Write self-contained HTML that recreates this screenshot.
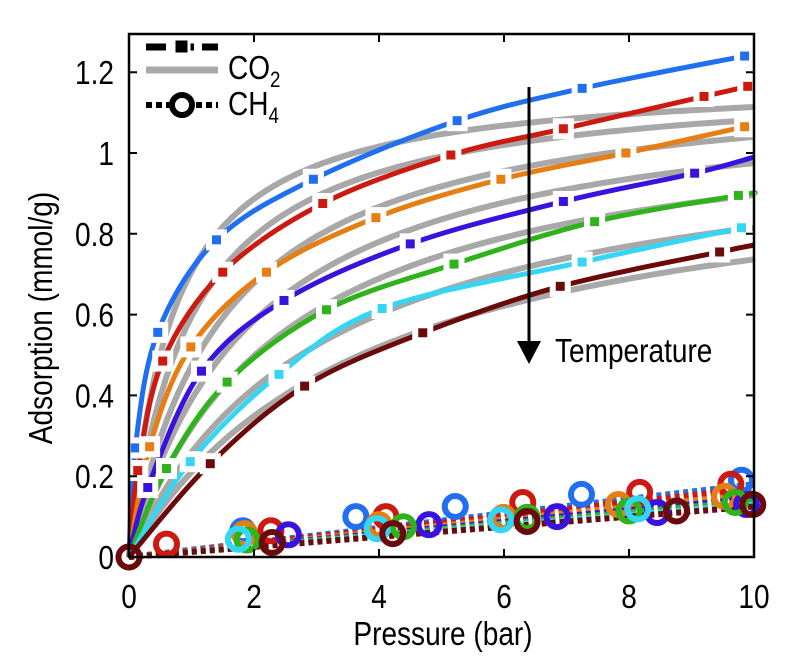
<!DOCTYPE html>
<html><head><meta charset="utf-8"><style>
body{margin:0;background:#fff}
svg{display:block;font-family:"Liberation Sans",sans-serif}
</style></head><body>
<svg id="chart" width="787" height="671" viewBox="0 0 787 671">
<g id="plot"></g>
<rect x="129" y="34" width="625" height="523" fill="none" stroke="#000" stroke-width="2.5"/>
<g id="axes"></g>
<g>
<line x1="146" y1="47" x2="218" y2="47" stroke="#000" stroke-width="7" stroke-dasharray="20 8"/>
<rect x="174" y="39" width="15" height="15" fill="#000" stroke="#fff" stroke-width="3"/>
<line x1="146" y1="70" x2="218" y2="70" stroke="#aaa" stroke-width="7"/>
<text transform="translate(228,79) scale(0.85,1)" font-size="33">CO<tspan font-size="22" dy="8">2</tspan></text>
<line x1="146" y1="105" x2="218" y2="105" stroke="#000" stroke-width="6" stroke-dasharray="6 4"/>
<circle cx="182" cy="105" r="10" fill="#fff" stroke="#000" stroke-width="6"/>
<text transform="translate(228,115) scale(0.85,1)" font-size="33">CH<tspan font-size="22" dy="8">4</tspan></text>
</g>
<g>
<line x1="529" y1="87" x2="529" y2="345" stroke="#000" stroke-width="3"/>
<polygon points="517,341 541,341 529,364" fill="#000"/>
<text transform="translate(555,362) scale(0.85,1)" font-size="33">Temperature</text>
</g>
<text transform="translate(443,645) scale(0.85,1)" font-size="33" text-anchor="middle">Pressure (bar)</text>
<text transform="translate(52,318) rotate(-90) scale(0.85,1)" font-size="33" text-anchor="middle">Adsorption (mmol/g)</text>
</svg>
<script>
const colors=["#1f6ff0","#cc1a10","#e67e14","#3a12e0","#2eb31a","#33d6f5","#6b0a0a"];
const seriesNames=["t1","t2","t3","t4","t5","t6","t7"];
const co2P=[[0.1,0.46,1.4,2.95,5.25,7.25,9.85],[0.14,0.54,1.5,3.1,5.15,6.95,9.2,9.9],[0.33,0.99,2.2,3.95,5.95,7.95,9.85],[0.3,1.16,2.48,4.5,6.95,9.05],[0.6,1.57,3.16,5.2,7.45,9.75],[0.98,2.4,4.05,7.25,9.8],[1.3,2.81,4.7,6.9,9.45]];
const co2Q=[[0.27,0.556,0.785,0.935,1.08,1.16,1.24],[0.214,0.485,0.705,0.875,0.995,1.06,1.14,1.165],[0.273,0.52,0.705,0.84,0.935,1.0,1.065],[0.172,0.46,0.635,0.775,0.88,0.95],[0.219,0.433,0.612,0.725,0.83,0.895],[0.236,0.452,0.615,0.73,0.815],[0.231,0.423,0.555,0.67,0.755]];
const co2End=[1.245,1.17,1.07,0.99,0.9,0.82,0.772];
const fitQmax=[1.19,1.19,1.2,1.17,1.12,1.07,1.02];
const fitB=[1.46,1.0,0.65,0.5,0.4,0.32,0.26];
const ch4P=[[1.82,3.63,5.22,7.24,9.8],[0.6,2.27,4.11,6.3,8.17,9.63],[1.85,4.0,5.99,7.83,9.53],[2.55,4.8,6.85,8.45,9.88],[1.89,4.39,6.37,8.0,9.7],[1.75,3.97,5.95,8.14],[0,2.29,4.22,6.37,8.76,9.98]];
const ch4Q=[[0.065,0.1,0.125,0.155,0.19],[0.032,0.065,0.1,0.135,0.16,0.18],[0.058,0.08,0.098,0.13,0.15],[0.055,0.08,0.1,0.11,0.13],[0.042,0.075,0.098,0.114,0.135],[0.044,0.07,0.092,0.119],[0,0.036,0.058,0.088,0.114,0.13]];
const ch4Slope=[0.018,0.017,0.0155,0.0145,0.0138,0.013,0.0125];
const xTicks=[0,2,4,6,8,10];
const yTicks=[0,0.2,0.4,0.6,0.8,1,1.2];
const yTickLabels=["0","0.2","0.4","0.6","0.8","1","1.2"];

const X=v=>129+v*62.5, Y=v=>557-v*404;
const NS="http://www.w3.org/2000/svg";
const plot=document.getElementById('plot'), axes=document.getElementById('axes');
function mk(tag,attrs,parent){const e=document.createElementNS(NS,tag);for(const k in attrs)e.setAttribute(k,attrs[k]);parent.appendChild(e);return e;}
function smooth(pts){let d=`M${pts[0][0]},${pts[0][1]}`;for(let i=0;i<pts.length-1;i++){const p0=pts[Math.max(0,i-1)],p1=pts[i],p2=pts[i+1],p3=pts[Math.min(pts.length-1,i+2)];const c1=[p1[0]+(p2[0]-p0[0])/6,p1[1]+(p2[1]-p0[1])/6],c2=[p2[0]-(p3[0]-p1[0])/6,p2[1]-(p3[1]-p1[1])/6];d+=` C${c1[0]},${c1[1]} ${c2[0]},${c2[1]} ${p2[0]},${p2[1]}`;}return d;}

for(let s=0;s<7;s++){
 const l=mk('line',{x1:X(0),y1:Y(0),x2:X(10),y2:Y(ch4Slope[s]*10),stroke:colors[s],'stroke-width':6,'stroke-dasharray':'5 4'},plot);
 
 
}
for(let s=0;s<7;s++){
 const pts=[];for(let i=0;i<=100;i++){const p=i/10;pts.push(X(p).toFixed(1)+','+Y(fitQmax[s]*fitB[s]*p/(1+fitB[s]*p)).toFixed(1));}
 const pl=mk('polyline',{points:pts.join(' '),fill:'none',stroke:'#a8a8a8','stroke-width':6},plot);
 
 
}
for(let s=0;s<7;s++){
 const pts=[[X(0),Y(0)]];co2P[s].forEach((p,i)=>pts.push([X(p),Y(co2Q[s][i])]));
 if(co2P[s][co2P[s].length-1]<9.8)pts.push([X(10),Y(co2End[s])]);
 const pa=mk('path',{d:smooth(pts),fill:'none',stroke:colors[s],'stroke-width':5},plot);
 
 
}
for(let s=0;s<7;s++){
 co2P[s].forEach((p,i)=>{
  const r=mk('rect',{x:X(p)-7.5,y:Y(co2Q[s][i])-7.5,width:15,height:15,fill:colors[s],stroke:'#fff','stroke-width':6},plot);
  
  
 });
}
for(let s=0;s<7;s++){
 ch4P[s].forEach((p,i)=>{
  const c=mk('circle',{cx:X(p),cy:Y(ch4Q[s][i]),r:10.5,fill:'none',stroke:colors[s],'stroke-width':6},plot);
  
  
 });
}
xTicks.forEach(v=>{
 const t=mk('path',{d:`M${X(v)},557 v-8 M${X(v)},34 v8`,stroke:'#000','stroke-width':2},axes);
 
 
 const tx=mk('text',{transform:`translate(${X(v)},608) scale(0.85,1)`,'font-size':33,'text-anchor':'middle'},axes);tx.textContent=v;
 
 
});
yTicks.forEach((v,i)=>{
 const t=mk('path',{d:`M129,${Y(v)} h8 M754,${Y(v)} h-8`,stroke:'#000','stroke-width':2},axes);
 
 
 const tx=mk('text',{transform:`translate(114,${Y(v)+12}) scale(0.85,1)`,'font-size':33,'text-anchor':'end'},axes);tx.textContent=yTickLabels[i];
 
 
});
</script>
</body></html>
